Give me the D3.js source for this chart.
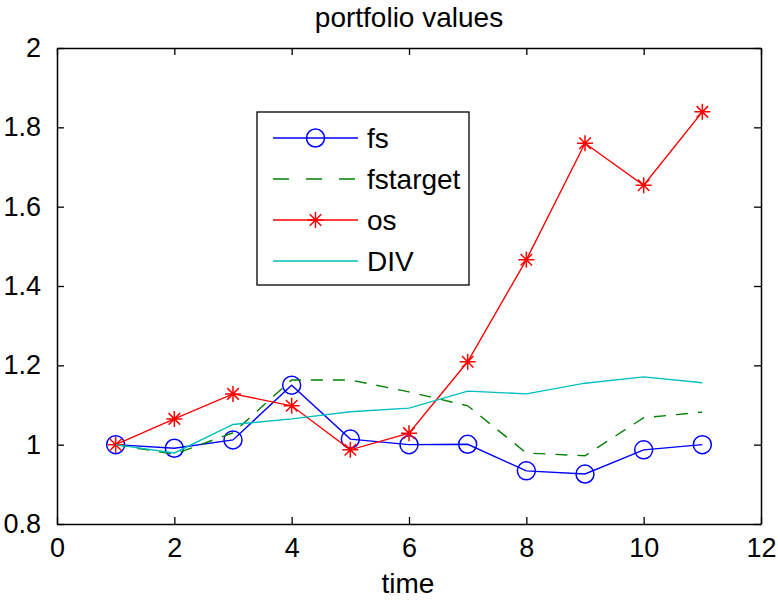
<!DOCTYPE html>
<html>
<head>
<meta charset="utf-8">
<script src="https://cdn.jsdelivr.net/npm/d3@7"></script>
<style>
  body { margin: 0; background: #fff; }
  text { font-family: "Liberation Sans", Arial, sans-serif; }
</style>
</head>
<body>
<div id="chart"></div>
<script>
// values
var time = [1, 2, 3, 4, 5, 6, 7, 8, 9, 10, 11];
var fs = [1.0, 0.991, 1.012, 1.150, 1.014, 1.0, 1.001, 0.934, 0.926, 0.987, 1.0];
var fstarget = [1.0, 0.976, 1.03, 1.163, 1.163, 1.133, 1.098, 0.979, 0.972, 1.068, 1.082];
var os = [1.0, 1.065, 1.128, 1.098, 0.987, 1.029, 1.209, 1.466, 1.760, 1.654, 1.839];
var div = [1.0, 0.979, 1.051, 1.065, 1.083, 1.092, 1.135, 1.128, 1.155, 1.171, 1.156];
var xTicks = [0, 2, 4, 6, 8, 10, 12];
var yTicks = [0.8, 1, 1.2, 1.4, 1.6, 1.8, 2];

var width = 778, height = 600;
var plotLeft = 57, plotRight = 761, plotTop = 48, plotBottom = 524;

var series = [
  {name: "fs", values: fs, color: "#0000ff", dash: null, marker: "circle"},
  {name: "fstarget", values: fstarget, color: "#008000", dash: "12,10", marker: null},
  {name: "os", values: os, color: "#ff0000", dash: null, marker: "star"},
  {name: "DIV", values: div, color: "#00bfbf", dash: null, marker: null}
];

var x = d3.scaleLinear().domain([0, 12]).range([plotLeft, plotRight]);
var y = d3.scaleLinear().domain([0.8, 2]).range([plotBottom, plotTop]);

var svg = d3.select('#chart').append('svg')
  .attr('width', width)
  .attr('height', height);

// axes, ticks pointing inward on all four sides
var fmt = function (d) { return d3.format("")(+d.toFixed(1)); };
svg.append('g').attr('transform', 'translate(0,' + plotBottom + ')')
  .call(d3.axisBottom(x).tickValues(xTicks).tickSizeInner(-7).tickSizeOuter(0).tickPadding(14).tickFormat(fmt));
svg.append('g').attr('transform', 'translate(0,' + plotTop + ')')
  .call(d3.axisTop(x).tickValues(xTicks).tickSizeInner(-7).tickSizeOuter(0).tickFormat(''));
svg.append('g').attr('transform', 'translate(' + plotLeft + ',0)')
  .call(d3.axisLeft(y).tickValues(yTicks).tickSizeInner(-7).tickSizeOuter(0).tickPadding(16).tickFormat(fmt));
svg.append('g').attr('transform', 'translate(' + plotRight + ',0)')
  .call(d3.axisRight(y).tickValues(yTicks).tickSizeInner(-7).tickSizeOuter(0).tickFormat(''));

svg.selectAll('.domain').attr('stroke', '#000').attr('stroke-width', 1.5);
svg.selectAll('.tick line').attr('stroke', '#000').attr('stroke-width', 1.3);
svg.selectAll('.tick text').attr('font-size', 27).attr('fill', '#000')
  .attr('font-family', '"Liberation Sans", Arial, sans-serif');

svg.append('text').attr('x', 409).attr('y', 27).attr('text-anchor', 'middle')
  .attr('font-size', 28).text('portfolio values');
svg.append('text').attr('x', 408).attr('y', 593).attr('text-anchor', 'middle')
  .attr('font-size', 28).text('time');

function drawMarker(g, type, cx, cy, color) {
  if (type === "circle") {
    g.append('circle').attr('cx', cx).attr('cy', cy).attr('r', 9)
      .attr('fill', 'none').attr('stroke', color).attr('stroke-width', 1.5);
  } else if (type === "star") {
    var r = 8, d = r * 0.72;
    var p = 'M' + (cx - r) + ',' + cy + 'H' + (cx + r) +
      'M' + cx + ',' + (cy - r) + 'V' + (cy + r) +
      'M' + (cx - d) + ',' + (cy - d) + 'L' + (cx + d) + ',' + (cy + d) +
      'M' + (cx - d) + ',' + (cy + d) + 'L' + (cx + d) + ',' + (cy - d);
    g.append('path').attr('d', p).attr('stroke', color).attr('stroke-width', 1.5).attr('fill', 'none');
  }
}

var line = d3.line()
  .x(function (d, i) { return x(time[i]); })
  .y(function (d) { return y(d); });

series.forEach(function (s) {
  var g = svg.append('g');
  g.append('path').datum(s.values)
    .attr('d', line)
    .attr('fill', 'none')
    .attr('stroke', s.color)
    .attr('stroke-width', 1.4)
    .attr('stroke-dasharray', s.dash);
  if (s.marker) {
    s.values.forEach(function (v, i) {
      drawMarker(g, s.marker, x(time[i]), y(v), s.color);
    });
  }
});

// legend
var lg = svg.append('g');
lg.append('rect').attr('x', 257).attr('y', 112).attr('width', 212).attr('height', 173)
  .attr('fill', '#fff').attr('stroke', '#000').attr('stroke-width', 1.3);
series.forEach(function (s, i) {
  var ly = 138 + i * 41;
  lg.append('line').attr('x1', 273).attr('x2', 358).attr('y1', ly).attr('y2', ly)
    .attr('stroke', s.color).attr('stroke-width', 1.4)
    .attr('stroke-dasharray', s.dash ? "16,17" : null);
  if (s.marker) drawMarker(lg, s.marker, 315.5, ly, s.color);
  lg.append('text').attr('x', 367).attr('y', ly + 10).attr('font-size', 28).text(s.name);
});
</script>
</body>
</html>
